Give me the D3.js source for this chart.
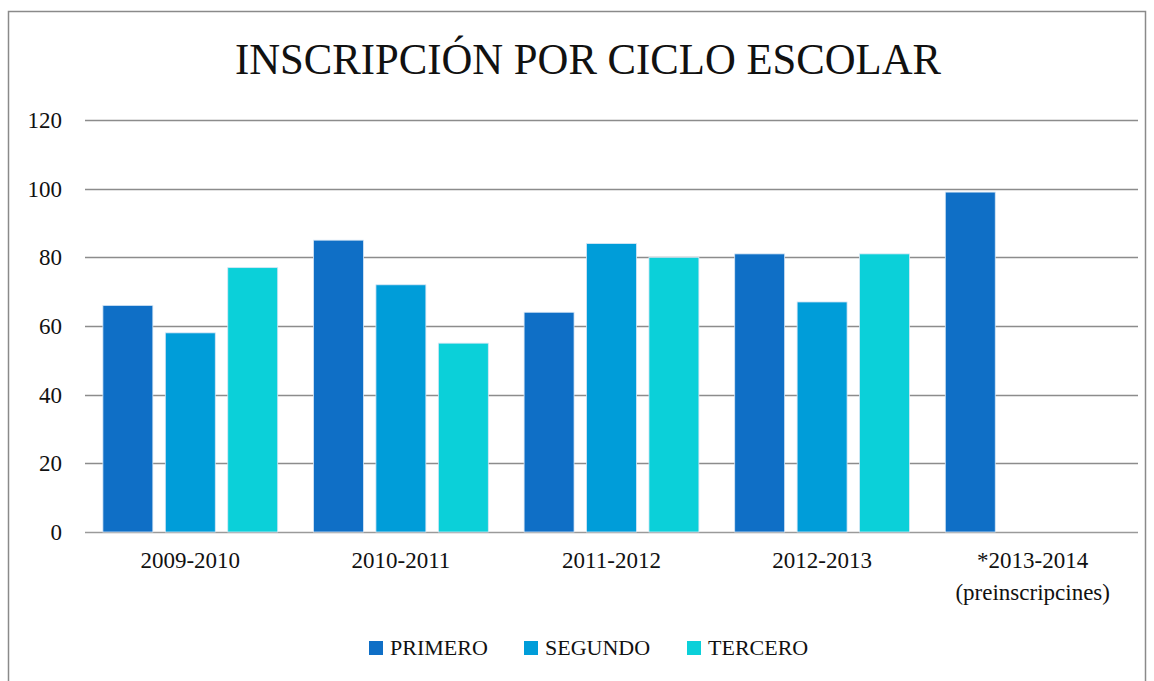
<!DOCTYPE html>
<html>
<head>
<meta charset="utf-8">
<script src="https://cdn.jsdelivr.net/npm/d3@7"></script>
<style>
  body { margin: 0; background: #fff; }
  text { font-family: "Liberation Serif", "DejaVu Serif", serif; fill: #111; }
</style>
</head>
<body>
<div class="js-chart"></div>
<script>
// chart data
var categories = ['2009-2010', '2010-2011', '2011-2012', '2012-2013', '*2013-2014|(preinscripcines)'];
var series = ['PRIMERO', 'SEGUNDO', 'TERCERO'];
var primero = [66, 85, 64, 81, 99];
var segundo = [58, 72, 84, 67, null];
var tercero = [77, 55, 80, 81, null];
var yTicks = [0, 20, 40, 60, 80, 100, 120];
var colors = ['#0F6FC6', '#009DD9', '#0BD0D9'];

var width = 1154, height = 681;
var margin = {left: 85, right: 16, top: 120, bottom: 149};

var svg = d3.select('.js-chart')
  .append('svg')
  .attr('width', width)
  .attr('height', height);

// outer frame
svg.append('rect')
  .attr('x', 8.5).attr('y', 11.5)
  .attr('width', 1137).attr('height', 690)
  .attr('fill', 'none')
  .attr('stroke', '#8a8a8a')
  .attr('stroke-width', 1.5);

svg.append('text')
  .attr('x', 588).attr('y', 74)
  .attr('text-anchor', 'middle')
  .attr('textLength', 706)
  .attr('lengthAdjust', 'spacingAndGlyphs')
  .style('font-size', '45px')
  .text('INSCRIPCIÓN POR CICLO ESCOLAR');

var x = d3.scaleBand()
  .domain(categories)
  .range([margin.left, width - margin.right])
  .paddingInner(0.17)
  .paddingOuter(0.085);

var x1 = d3.scaleBand()
  .domain(series)
  .range([0, x.bandwidth()])
  .paddingInner(0.2);

var y = d3.scaleLinear()
  .domain([0, 120])
  .range([height - margin.bottom, margin.top]);

// grid
svg.selectAll('.grid')
  .data(yTicks)
  .enter()
  .append('line')
  .classed('grid', true)
  .attr('x1', margin.left)
  .attr('x2', width - margin.right)
  .attr('y1', function(d) { return Math.round(y(d)) + 0.5; })
  .attr('y2', function(d) { return Math.round(y(d)) + 0.5; })
  .attr('stroke', function(d) { return d === 0 ? '#9a9a9a' : '#8c8c8c'; })
  .attr('stroke-width', 1.5);

svg.selectAll('.ytick')
  .data(yTicks)
  .enter()
  .append('text')
  .classed('ytick', true)
  .attr('x', 62)
  .attr('y', function(d) { return y(d) + 8; })
  .attr('text-anchor', 'end')
  .style('font-size', '23px')
  .text(function(d) { return d; });

var rows = categories.map(function(c, i) {
  return {cat: c, vals: [primero[i], segundo[i], tercero[i]]};
});

var groups = svg.selectAll('.group')
  .data(rows)
  .enter()
  .append('g')
  .classed('group', true)
  .attr('transform', function(d) { return 'translate(' + x(d.cat) + ',0)'; });

groups.selectAll('rect')
  .data(function(d) {
    return d.vals.map(function(v, j) { return {s: series[j], v: v, j: j}; })
      .filter(function(b) { return b.v != null; });
  })
  .enter()
  .append('rect')
  .attr('x', function(d) { return x1(d.s); })
  .attr('y', function(d) { return y(d.v); })
  .attr('width', x1.bandwidth())
  .attr('height', function(d) { return y(0) - y(d.v); })
  .attr('fill', function(d) { return colors[d.j]; })
  .attr('stroke', '#d6e6f5')
  .attr('stroke-width', 0.8);

// category labels
svg.selectAll('.xlabel')
  .data(categories)
  .enter()
  .append('text')
  .classed('xlabel', true)
  .attr('x', function(d) { return x(d) + x.bandwidth() / 2; })
  .attr('y', 568)
  .attr('text-anchor', 'middle')
  .style('font-size', '23px')
  .each(function(d) {
    var lines = d.split('|');
    var t = d3.select(this);
    lines.forEach(function(l, i) {
      t.append('tspan')
        .attr('x', x(d) + x.bandwidth() / 2)
        .attr('dy', i === 0 ? 0 : 32)
        .text(l);
    });
  });

// legend
var legendX = [369, 524, 687];
var legend = svg.selectAll('.legend')
  .data(series)
  .enter()
  .append('g')
  .classed('legend', true)
  .attr('transform', function(d, i) { return 'translate(' + legendX[i] + ',641)'; });

legend.append('rect')
  .attr('width', 14).attr('height', 14)
  .attr('fill', function(d, i) { return colors[i]; });

legend.append('text')
  .attr('x', 21).attr('y', 14)
  .style('font-size', '22px')
  .text(function(d) { return d; });
</script>
</body>
</html>
